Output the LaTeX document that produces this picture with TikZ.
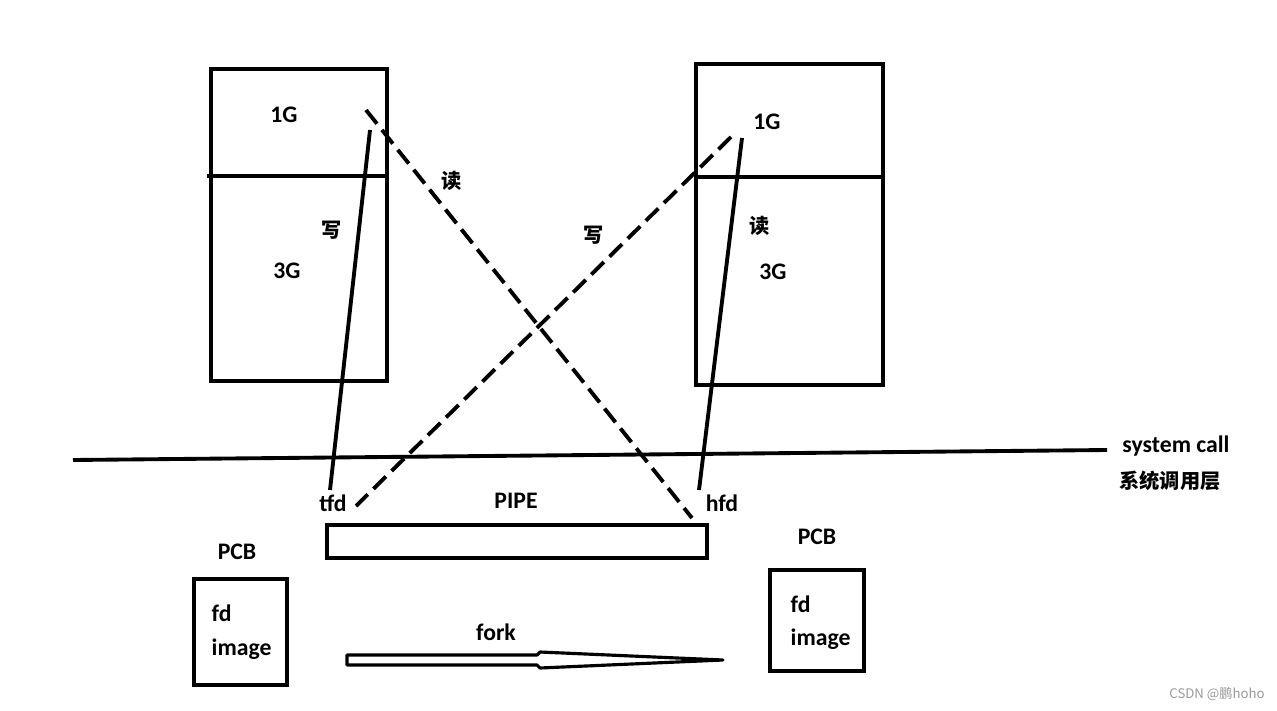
\documentclass[tikz,border=0pt]{standalone}
\usepackage{fontspec}
\setmainfont{Carlito}
\newfontfamily\cjk{Noto Sans CJK SC}
\begin{document}
\begin{tikzpicture}[x=0.02cm, y=-0.02cm, line width=2.2pt,
  lbl/.style={font=\fontsize{13.5}{15}\selectfont\bfseries, inner sep=1pt},
  zh/.style={font=\cjk\fontsize{11.5}{14}\selectfont\bfseries, inner sep=1pt},
  box/.style={draw, line width=2.4pt, inner sep=0pt},
  rw/.style={line width=2.2pt, dash pattern=on 10pt off 4.5pt}]

\useasboundingbox (0,0) rectangle (1277,710);

% memory of the two processes
\node[box, minimum width=3.52cm, minimum height=6.24cm] (lmem) at (299,225) {};
\node[box, minimum width=3.74cm, minimum height=6.42cm] (rmem) at (789.5,224.5) {};
\draw[line width=2.4pt] (207,176) -- (387,176);
\draw[line width=2.4pt] (696,177) -- (883,177);

\node[lbl] (l1g) at (284,115) {1G};
\node[lbl] (l3g) at (287,271) {3G};
\node[lbl] (r1g) at (767,122) {1G};
\node[lbl] (r3g) at (773,272) {3G};
\node[zh] (lw) at (332,230) {写};
\node[zh] (lr) at (452,181) {读};
\node[zh] (rw) at (594,235) {写};
\node[zh] (rr) at (760,226) {读};

% system call layer
\coordinate (sysl) at (73,460);
\coordinate (sysr) at (1107,450);
\draw (sysl) -- (sysr);
\node[lbl] (sys) at (1176,446) {system call};
\node[zh] (syszh) at (1170,481) {系统调用层};

% pipe
\node[lbl] (tfd) at (333,503) {tfd};
\node[lbl] (hfd) at (722,503) {hfd};
\node[lbl] (pipename) at (516,501) {PIPE};
\node[box, minimum width=7.6cm, minimum height=0.66cm] (pipe) at (517,541.5) {};

\coordinate (lw1) at (370,130);
\coordinate (lw2) at (330,490);
\coordinate (rw1) at (742,138);
\coordinate (rw2) at (699,490);
\coordinate (lr1) at (366,110);
\coordinate (lr2) at (692,518);
\coordinate (rr1) at (731,137);
\coordinate (rr2) at (356,506);
\draw (lw1) -- (lw2);
\draw (rw1) -- (rw2);
\draw[rw] (lr1) -- (lr2);
\draw[rw] (rr1) -- (rr2);

% PCBs
\node[lbl] (lpcb) at (237,552) {PCB};
\node[box, minimum width=1.86cm, minimum height=2.12cm] (lproc) at (240.5,632) {};
\node[lbl, anchor=west] (lfd) at (208,613) {fd};
\node[lbl, anchor=west] (limg) at (208,649) {image};
\node[lbl] (rpcb) at (817,537) {PCB};
\node[box, minimum width=1.88cm, minimum height=2.02cm] (rproc) at (817,620.5) {};
\node[lbl, anchor=west] (rfd) at (787,604) {fd};
\node[lbl, anchor=west] (rimg) at (787,639) {image};

% fork
\node[lbl] (fork) at (496,632) {fork};
\draw[line width=1.8pt, line join=round]
  (347,655) -- (537,655) -- (540,652) -- (723,660) -- (540,668) -- (537,665) -- (347,665) -- cycle;

\node[font=\cjk\fontsize{7.5}{9}\selectfont, text=black!40] (mark) at (1217,694) {CSDN @鹏hoho};

\end{tikzpicture}
\end{document}
